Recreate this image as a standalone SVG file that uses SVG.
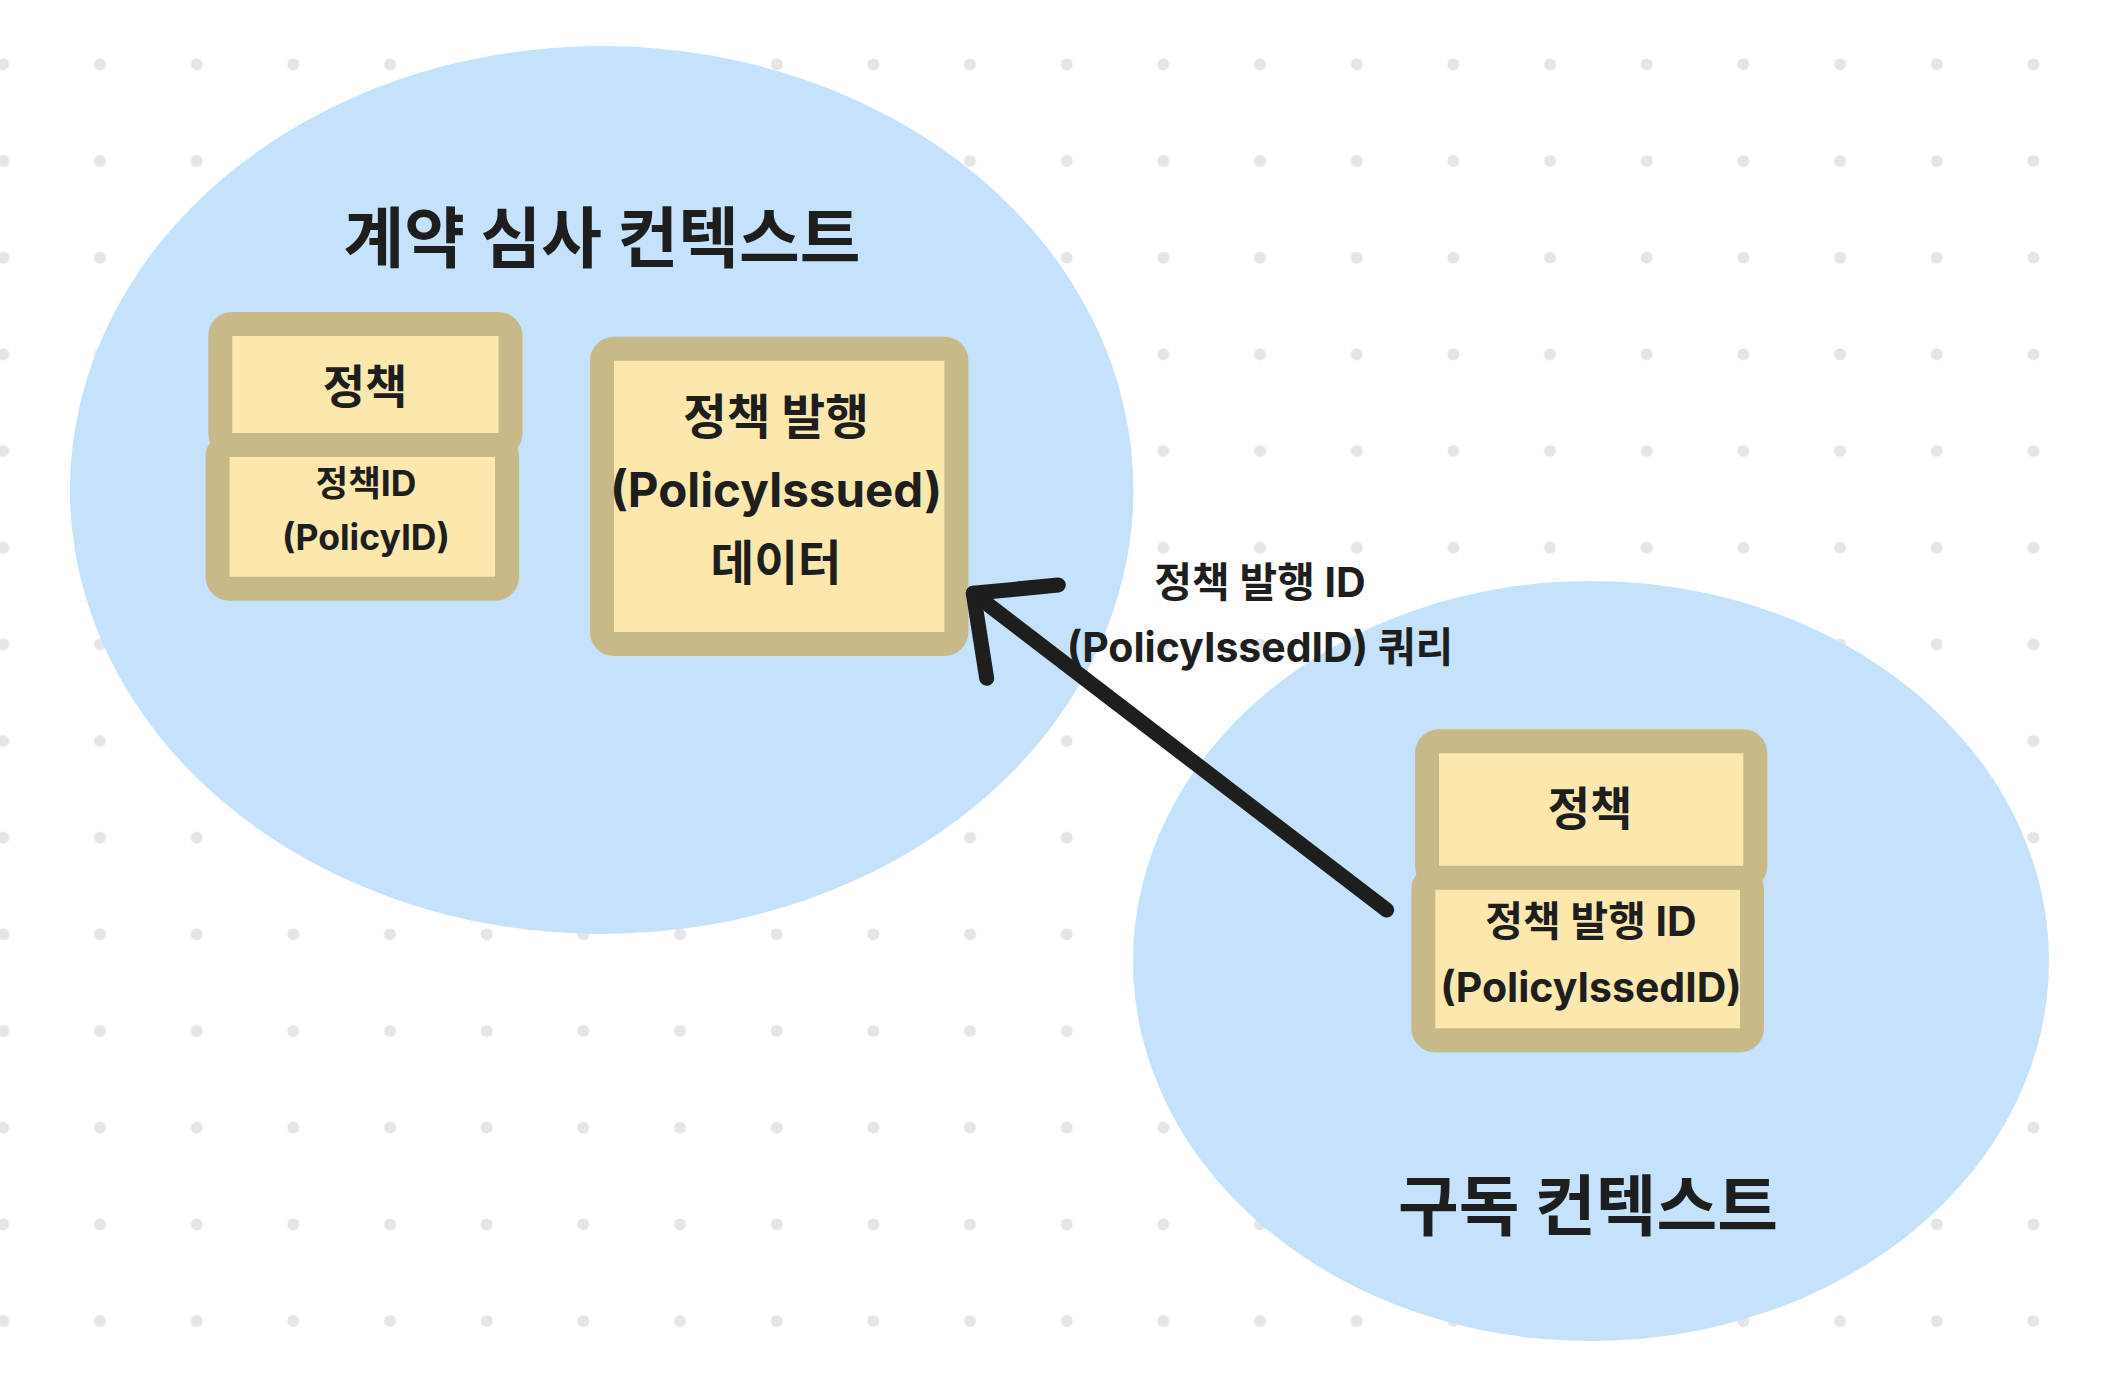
<svg xmlns="http://www.w3.org/2000/svg" width="2116" height="1388" viewBox="0 0 2116 1388">
<style>
.ctx{fill:#c4e2fb}
.box{fill:#fce8ad;stroke:#c8b989;stroke-width:24;stroke-linejoin:round}
text{font-family:Inter,"Noto Sans CJK KR",sans-serif;font-weight:700;fill:#1e1e1e;text-anchor:middle}
.edge{fill:none;stroke:#1e1e1e;stroke-width:15;stroke-linecap:round;stroke-linejoin:round}
</style>
<defs>
<pattern id="dots" x="-45" y="16" width="96.67" height="96.67" patternUnits="userSpaceOnUse">
<circle cx="48.33" cy="48.33" r="6" fill="#e5e5e5"/>
</pattern>
</defs>
<rect width="2116" height="1388" fill="#ffffff"/>
<rect width="2116" height="1388" fill="url(#dots)"/>
<g id="context-review">
<ellipse class="ctx" cx="601.7" cy="490" rx="531.7" ry="444"/>
<text x="602" y="262" font-size="66">계약 심사 컨텍스트</text>
</g>
<g id="context-subscription">
<ellipse class="ctx" cx="1591" cy="961" rx="458" ry="380"/>
<text x="1588" y="1230" font-size="66">구독 컨텍스트</text>
</g>
<g id="policy-review">
<rect class="box" x="217.6" y="444.7" width="289.4" height="144" rx="12"/>
<rect class="box" x="220.3" y="324" width="290.2" height="121" rx="12"/>
<text x="365" y="403" font-size="46">정책</text>
<text x="366" y="496" font-size="35.5">정책ID</text>
<text x="366" y="550" font-size="35.5">(PolicyID)</text>
</g>
<g id="policy-issued">
<rect class="box" x="602" y="348.7" width="354.4" height="295.3" rx="12"/>
<text x="776" y="434" font-size="47.5">정책 발행</text>
<text x="776" y="507" font-size="47.5">(PolicyIssued)</text>
<text x="776" y="580" font-size="47.5">데이터</text>
</g>
<g id="policy-subscription">
<rect class="box" x="1423.3" y="877.3" width="328.7" height="163" rx="12"/>
<rect class="box" x="1427" y="741.3" width="328.3" height="136.4" rx="12"/>
<text x="1590" y="825" font-size="46">정책</text>
<text x="1591" y="936" font-size="41">정책 발행 ID</text>
<text x="1591" y="1002" font-size="41">(PolicyIssedID)</text>
</g>
<g id="connectors">
<path class="edge" d="M1386.7 910 L973.3 593.3"/>
<path class="edge" d="M1058.3 585 L973.3 593.3 L986.7 678.3"/>
<text x="1260" y="597" font-size="41">정책 발행 ID</text>
<text x="1260" y="662" font-size="41">(PolicyIssedID) 쿼리</text>
</g>
</svg>
